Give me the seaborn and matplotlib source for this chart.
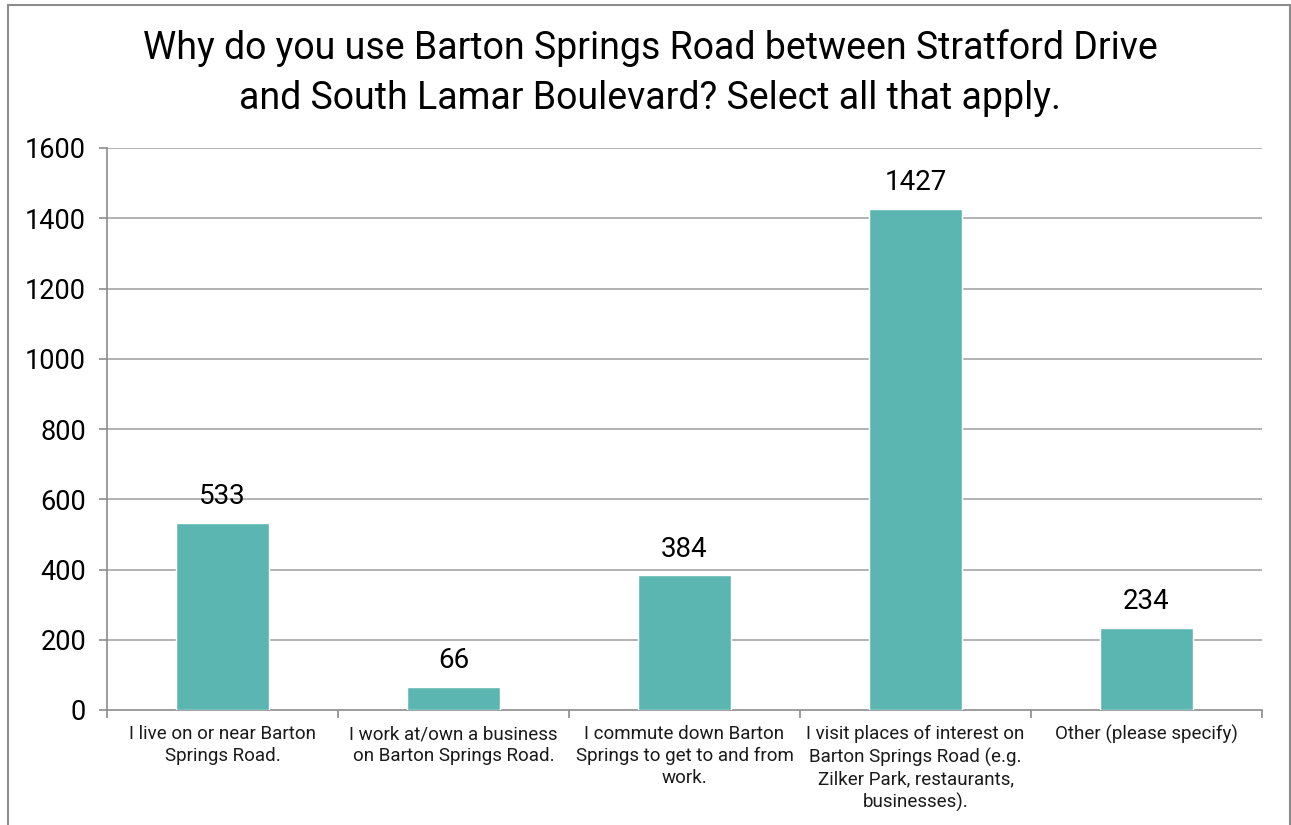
import matplotlib
matplotlib.use("Agg")
import matplotlib.pyplot as plt
from matplotlib.patches import Rectangle
from matplotlib.ticker import FixedLocator
import seaborn as sns
import pandas as pd

categories = [
    "I live on or near Barton\nSprings Road.",
    "I work at/own a business\non Barton Springs Road.",
    "I commute down Barton\nSprings to get to and from\nwork.",
    "I visit places of interest on\nBarton Springs Road (e.g.\nZilker Park, restaurants,\nbusinesses).",
    "Other (please specify)",
]
counts = [533, 66, 384, 1427, 234]
y_ticks = [0, 200, 400, 600, 800, 1000, 1200, 1400, 1600]
title = ("Why do you use Barton Springs Road between Stratford Drive\n"
         "and South Lamar Boulevard? Select all that apply.")

sns.set_theme(style="white")
plt.rcParams["font.family"] = ["Roboto", "DejaVu Sans"]

bar_color = "#5BB6B1"
grid_color = "#A6A6A6"
axis_color = "#8C8C8C"

df = pd.DataFrame({"reason": categories, "count": counts})

fig = plt.figure(figsize=(12.91, 8.25), dpi=100)
ax = fig.add_axes([107 / 1291, 1 - 710 / 825, (1262 - 107) / 1291, (710 - 148) / 825])

sns.barplot(data=df, x="reason", y="count", color=bar_color, width=0.4,
            saturation=1, ax=ax, zorder=3)

ax.set_xlim(-0.5, len(categories) - 0.5)
ax.set_ylim(0, 1600)
ax.set_yticks(y_ticks)
ax.set_xlabel("")
ax.set_ylabel("")

# horizontal gridlines
for v in y_ticks[1:]:
    ax.axhline(v, color=grid_color, lw=1.2, zorder=1)

for side in ["top", "right"]:
    ax.spines[side].set_visible(False)
ax.spines["left"].set_color(axis_color)
ax.spines["bottom"].set_color(axis_color)
ax.spines["left"].set_linewidth(1.2)
ax.spines["bottom"].set_linewidth(1.2)

# y ticks
ax.tick_params(axis="y", which="major", direction="out", length=6, width=1.2,
               color=axis_color, labelsize=19.5, labelcolor="#000000", pad=9, left=True)

# x: category labels drawn as centred text, tick marks at category boundaries
ax.set_xticks(range(len(categories)))
ax.set_xticklabels([])
ax.tick_params(axis="x", which="major", length=0)
ax.xaxis.set_minor_locator(FixedLocator([i - 0.5 for i in range(len(categories) + 1)]))
ax.tick_params(axis="x", which="minor", direction="out", length=6, width=1.2,
               color=axis_color, bottom=True)
for i, cat in enumerate(categories):
    ax.annotate(cat, xy=(i, 0), xycoords=("data", "axes fraction"),
                xytext=(0, -11), textcoords="offset points",
                ha="center", va="top", fontsize=13.5, color="#1a1a1a",
                linespacing=1.28)

# value labels
for container in ax.containers:
    ax.bar_label(container, labels=[str(v) for v in counts], padding=9,
                 fontsize=20, color="#000000")

fig.text(650 / 1291, 1 - 73 / 825, title, ha="center", va="center",
         fontsize=27, color="#000000", linespacing=1.42)

# chart frame
fig.patches.append(Rectangle((7.5 / 1291, -0.05), (1290 - 7.5) / 1291, 1.05 - 5.5 / 825,
                             transform=fig.transFigure, fill=False,
                             edgecolor="#8C8C8C", linewidth=1.5))

fig.savefig("out.png", dpi=100)
